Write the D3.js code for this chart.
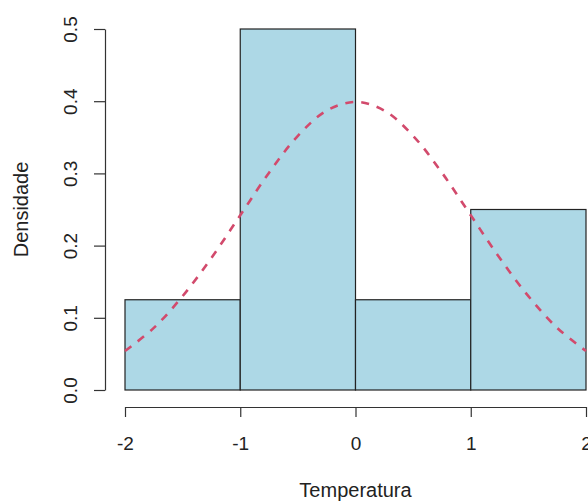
<!DOCTYPE html>
<html>
<head>
<meta charset="utf-8">
<script src="https://cdn.jsdelivr.net/npm/d3@7"></script>
<style>
  html, body { margin: 0; padding: 0; background: #fff; }
  svg { display: block; }
  text { font-family: "Liberation Sans", Arial, sans-serif; fill: #222; }
</style>
</head>
<body>
<svg id="chart" width="588" height="503"></svg>
<script>
// Histogram bins (temperature) and their densities
const binStarts = [-2, -1, 0, 1];
const binEnds   = [-1, 0, 1, 2];
const densities = [0.125, 0.5, 0.125, 0.25];

// Normal density curve, sampled points
const curveX = [-2, -1.75, -1.5, -1.25, -1, -0.75, -0.5, -0.25, 0, 0.25, 0.5, 0.75, 1, 1.25, 1.5, 1.75, 2];
const curveY = [0.054, 0.086, 0.130, 0.183, 0.242, 0.301, 0.352, 0.387, 0.399, 0.387, 0.352, 0.301, 0.242, 0.183, 0.130, 0.086, 0.054];

// Axis ticks
const xTicks = [-2, -1, 0, 1, 2];
const yTicks = [0.0, 0.1, 0.2, 0.3, 0.4, 0.5];

const svg = d3.select("#chart");
const x = d3.scaleLinear().domain([-2, 2]).range([125, 586]);
const y = d3.scaleLinear().domain([0, 0.5]).range([390, 29]);

const tickFont = 19;
const titleFont = 20;

// Bars
svg.append("g")
  .selectAll("rect")
  .data(densities)
  .join("rect")
  .attr("x", (d, i) => x(binStarts[i]))
  .attr("width", (d, i) => x(binEnds[i]) - x(binStarts[i]))
  .attr("y", d => y(d))
  .attr("height", d => y(0) - y(d))
  .attr("fill", "#ADD8E6")
  .attr("stroke", "#222")
  .attr("stroke-width", 1.2);

// Density curve
const pts = curveX.map((v, i) => [v, curveY[i]]);
svg.append("path")
  .datum(pts)
  .attr("fill", "none")
  .attr("stroke", "#D24A6C")
  .attr("stroke-width", 2.6)
  .attr("stroke-dasharray", "8,8")
  .attr("d", d3.line().x(d => x(d[0])).y(d => y(d[1])).curve(d3.curveCatmullRom));

// X axis
const xAxis = svg.append("g").attr("transform", "translate(0,407)")
  .call(d3.axisBottom(x).tickValues(xTicks).tickSize(10).tickSizeOuter(0).tickFormat(d3.format("d")));
xAxis.select(".domain").attr("stroke", "#333").attr("stroke-width", 1.2);
xAxis.selectAll(".tick line").attr("stroke", "#333").attr("stroke-width", 1.2);
xAxis.selectAll(".tick text")
  .attr("y", 0).attr("dy", null)
  .attr("transform", "translate(0,43)")
  .style("font-size", tickFont + "px")
  .style("font-family", "'Liberation Sans', Arial, sans-serif")
  .attr("fill", "#222")
  .text(d => d < 0 ? "-" + Math.abs(d) : d);

// Y axis
const yAxis = svg.append("g").attr("transform", "translate(105,0)")
  .call(d3.axisLeft(y).tickValues(yTicks).tickSize(11).tickSizeOuter(0).tickFormat(d3.format(".1f")));
yAxis.select(".domain").attr("stroke", "#333").attr("stroke-width", 1.2);
yAxis.selectAll(".tick line").attr("stroke", "#333").attr("stroke-width", 1.2);
yAxis.selectAll(".tick text")
  .attr("x", 0).attr("dy", null)
  .attr("text-anchor", "middle")
  .attr("transform", "translate(-28,0) rotate(-90)")
  .style("font-size", tickFont + "px")
  .style("font-family", "'Liberation Sans', Arial, sans-serif")
  .attr("fill", "#222");

// Axis titles
svg.append("text")
  .attr("x", x(0)).attr("y", 497)
  .attr("text-anchor", "middle")
  .style("font-size", titleFont + "px")
  .text("Temperatura");

svg.append("text")
  .attr("transform", `translate(28,${(y(0) + y(0.5)) / 2}) rotate(-90)`)
  .attr("text-anchor", "middle")
  .style("font-size", titleFont + "px")
  .text("Densidade");
</script>
</body>
</html>
